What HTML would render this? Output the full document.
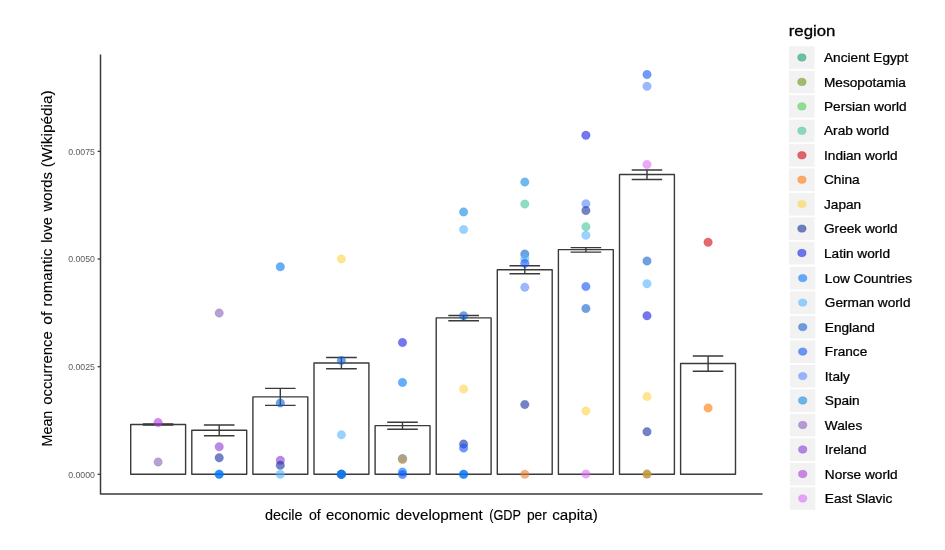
<!DOCTYPE html>
<html lang="en"><head><meta charset="utf-8"><title>Romantic love words by economic development</title>
<style>html,body{margin:0;padding:0;background:#fff}body{width:945px;height:550px;overflow:hidden}svg{display:block}text{font-family:"Liberation Sans",Arial,sans-serif}</style></head><body>
<svg width="945" height="550" viewBox="0 0 945 550">
<rect width="945" height="550" fill="#ffffff"/>
<g fill="none" stroke="#3a3a3a" stroke-width="1.4" stroke-linejoin="round">
<g transform="translate(0.2 0.1)">
<rect x="130.5" y="424.4" width="54.9" height="49.7" fill="#fff"/>
<rect x="191.6" y="430.1" width="54.9" height="44.0" fill="#fff"/>
<rect x="252.7" y="396.8" width="54.9" height="77.3" fill="#fff"/>
<rect x="313.8" y="362.9" width="54.9" height="111.2" fill="#fff"/>
<rect x="374.9" y="425.5" width="54.9" height="48.6" fill="#fff"/>
<rect x="436.0" y="317.8" width="54.9" height="156.3" fill="#fff"/>
<rect x="497.1" y="269.7" width="54.9" height="204.4" fill="#fff"/>
<rect x="558.2" y="249.5" width="54.9" height="224.6" fill="#fff"/>
<rect x="619.3" y="174.4" width="54.9" height="299.7" fill="#fff"/>
<rect x="680.4" y="363.4" width="54.9" height="110.7" fill="#fff"/>
<path d="M142.6 423.9H173.2M142.6 424.9H173.2M157.9 423.9V424.9"/>
<path d="M203.7 424.9H234.3M203.7 435.6H234.3M219.0 424.9V435.6"/>
<path d="M264.8 388.3H295.4M264.8 405.3H295.4M280.1 388.3V405.3"/>
<path d="M325.9 357.4H356.6M325.9 368.7H356.6M341.2 357.4V368.7"/>
<path d="M387.0 422.1H417.6M387.0 429.1H417.6M402.3 422.1V429.1"/>
<path d="M448.1 315.4H478.8M448.1 320.6H478.8M463.4 315.4V320.6"/>
<path d="M509.3 265.6H539.9M509.3 273.6H539.9M524.6 265.6V273.6"/>
<path d="M570.4 247.5H601.0M570.4 252.0H601.0M585.7 247.5V252.0"/>
<path d="M631.5 169.9H662.0M631.5 179.4H662.0M646.8 169.9V179.4"/>
<path d="M692.6 355.9H723.1M692.6 371.1H723.1M707.9 355.9V371.1"/>
</g>
<path d="M100.5 54.6V494.1H762.5" stroke-width="1.5"/>
<path d="M97.6 474.3H100.4" stroke-width="1.3"/>
<path d="M97.6 366.7H100.4" stroke-width="1.3"/>
<path d="M97.6 259.0H100.4" stroke-width="1.3"/>
<path d="M97.6 151.4H100.4" stroke-width="1.3"/>
</g>
<g font-size="9.5" fill="#5a5a5a" text-anchor="end">
<text x="95.0" y="477.65" textLength="26.8" lengthAdjust="spacingAndGlyphs">0.0000</text>
<text x="95.0" y="370.05" textLength="26.8" lengthAdjust="spacingAndGlyphs">0.0025</text>
<text x="95.0" y="262.45" textLength="26.8" lengthAdjust="spacingAndGlyphs">0.0050</text>
<text x="95.0" y="154.85" textLength="26.8" lengthAdjust="spacingAndGlyphs">0.0075</text>
</g>
<g transform="translate(0.2 0.1)" fill-opacity="0.6" stroke-opacity="0.3" stroke-width="0.7">
<circle cx="157.9" cy="422.5" r="4.25" fill="#AF3CD7" stroke="#AF3CD7"/>
<circle cx="157.9" cy="461.9" r="4.25" fill="#8B5FB9" stroke="#8B5FB9"/>
<circle cx="219.0" cy="312.9" r="4.25" fill="#8B5FB9" stroke="#8B5FB9"/>
<circle cx="219.0" cy="446.7" r="4.25" fill="#893CD7" stroke="#893CD7"/>
<circle cx="219.0" cy="457.7" r="4.25" fill="#162F9F" stroke="#162F9F"/>
<circle cx="219.0" cy="474.1" r="4.25" fill="#0277F7" stroke="#0277F7"/>
<circle cx="219.0" cy="474.1" r="4.25" fill="#0277F7" stroke="#0277F7"/>
<circle cx="280.1" cy="266.7" r="4.25" fill="#0277F7" stroke="#0277F7"/>
<circle cx="280.1" cy="402.8" r="4.25" fill="#1161CC" stroke="#1161CC"/>
<circle cx="280.1" cy="460.2" r="4.25" fill="#893CD7" stroke="#893CD7"/>
<circle cx="280.1" cy="465.2" r="4.25" fill="#162F9F" stroke="#162F9F"/>
<circle cx="280.1" cy="474.1" r="4.25" fill="#56B4FF" stroke="#56B4FF"/>
<circle cx="341.2" cy="258.8" r="4.25" fill="#FFD448" stroke="#FFD448"/>
<circle cx="341.2" cy="360.5" r="4.25" fill="#1161CC" stroke="#1161CC"/>
<circle cx="341.2" cy="434.6" r="4.25" fill="#56B4FF" stroke="#56B4FF"/>
<circle cx="341.2" cy="474.1" r="4.25" fill="#0277F7" stroke="#0277F7"/>
<circle cx="341.2" cy="474.1" r="4.25" fill="#1161CC" stroke="#1161CC"/>
<circle cx="341.2" cy="474.1" r="4.25" fill="#1155F7" stroke="#1155F7"/>
<circle cx="341.2" cy="474.1" r="4.25" fill="#1489E0" stroke="#1489E0"/>
<circle cx="402.3" cy="342.4" r="4.25" fill="#181DE1" stroke="#181DE1"/>
<circle cx="402.3" cy="382.3" r="4.25" fill="#0277F7" stroke="#0277F7"/>
<circle cx="402.3" cy="458.6" r="4.25" fill="#162F9F" stroke="#162F9F"/>
<circle cx="402.3" cy="459.2" r="4.5" fill="#B9A572" fill-opacity="0.9"/>
<circle cx="402.3" cy="472.0" r="4.25" fill="#0277F7" stroke="#0277F7"/>
<circle cx="402.3" cy="474.4" r="4.25" fill="#1155F7" stroke="#1155F7"/>
<circle cx="463.4" cy="211.8" r="4.25" fill="#1489E0" stroke="#1489E0"/>
<circle cx="463.4" cy="229.5" r="4.25" fill="#56B4FF" stroke="#56B4FF"/>
<circle cx="463.4" cy="315.6" r="4.25" fill="#1161CC" stroke="#1161CC"/>
<circle cx="463.4" cy="388.8" r="4.25" fill="#FFD448" stroke="#FFD448"/>
<circle cx="463.4" cy="443.9" r="4.25" fill="#162F9F" stroke="#162F9F"/>
<circle cx="463.4" cy="448.0" r="4.25" fill="#1155F7" stroke="#1155F7"/>
<circle cx="463.4" cy="474.2" r="4.25" fill="#0277F7" stroke="#0277F7"/>
<circle cx="463.4" cy="474.2" r="4.25" fill="#0277F7" stroke="#0277F7"/>
<circle cx="524.6" cy="181.9" r="4.25" fill="#1489E0" stroke="#1489E0"/>
<circle cx="524.6" cy="204.0" r="4.25" fill="#45C39B" stroke="#45C39B"/>
<circle cx="524.6" cy="254.0" r="4.25" fill="#1161CC" stroke="#1161CC"/>
<circle cx="524.6" cy="258.5" r="4.25" fill="#56B4FF" stroke="#56B4FF"/>
<circle cx="524.6" cy="263.1" r="4.25" fill="#1155F7" stroke="#1155F7"/>
<circle cx="524.6" cy="287.1" r="4.25" fill="#5A87FC" stroke="#5A87FC"/>
<circle cx="524.6" cy="404.4" r="4.25" fill="#162F9F" stroke="#162F9F"/>
<circle cx="524.6" cy="474.2" r="4.25" fill="#E67F32" stroke="#E67F32"/>
<circle cx="585.7" cy="135.2" r="4.25" fill="#181DE1" stroke="#181DE1"/>
<circle cx="585.7" cy="203.7" r="4.25" fill="#5A87FC" stroke="#5A87FC"/>
<circle cx="585.7" cy="210.4" r="4.25" fill="#162F9F" stroke="#162F9F"/>
<circle cx="585.7" cy="235.2" r="4.25" fill="#56B4FF" stroke="#56B4FF"/>
<circle cx="585.7" cy="226.6" r="4.25" fill="#45C39B" stroke="#45C39B"/>
<circle cx="585.7" cy="286.4" r="4.25" fill="#1155F7" stroke="#1155F7"/>
<circle cx="585.7" cy="308.4" r="4.25" fill="#1161CC" stroke="#1161CC"/>
<circle cx="585.7" cy="410.8" r="4.25" fill="#FFD448" stroke="#FFD448"/>
<circle cx="585.7" cy="474.0" r="4.25" fill="#DA6EF8" stroke="#DA6EF8"/>
<circle cx="646.8" cy="74.5" r="4.25" fill="#1155F7" stroke="#1155F7"/>
<circle cx="646.8" cy="86.2" r="4.25" fill="#5A87FC" stroke="#5A87FC"/>
<circle cx="646.8" cy="164.3" r="4.25" fill="#DA6EF8" stroke="#DA6EF8"/>
<circle cx="646.8" cy="260.8" r="4.25" fill="#1161CC" stroke="#1161CC"/>
<circle cx="646.8" cy="283.6" r="4.25" fill="#56B4FF" stroke="#56B4FF"/>
<circle cx="646.8" cy="315.6" r="4.25" fill="#181DE1" stroke="#181DE1"/>
<circle cx="646.8" cy="396.4" r="4.25" fill="#FFD448" stroke="#FFD448"/>
<circle cx="646.8" cy="431.6" r="4.25" fill="#162F9F" stroke="#162F9F"/>
<circle cx="646.8" cy="474.0" r="4.5" fill="#C09A40" fill-opacity="0.9"/>
<circle cx="707.9" cy="242.2" r="4.25" fill="#D4050F" stroke="#D4050F"/>
<circle cx="707.9" cy="407.8" r="4.25" fill="#FF7A04" stroke="#FF7A04"/>
</g>
<text y="519.8" font-size="15.2" fill="#000" stroke="#000" stroke-width="0.15"><tspan x="264.9" textLength="37.7" lengthAdjust="spacingAndGlyphs">decile</tspan> <tspan x="308.9" textLength="11.8" lengthAdjust="spacingAndGlyphs">of</tspan> <tspan x="325.9" textLength="64.0" lengthAdjust="spacingAndGlyphs">economic</tspan> <tspan x="395.4" textLength="87.3" lengthAdjust="spacingAndGlyphs">development</tspan> <tspan x="489.2" textLength="31.6" lengthAdjust="spacingAndGlyphs">(GDP</tspan> <tspan x="526.9" textLength="20.0" lengthAdjust="spacingAndGlyphs">per</tspan> <tspan x="552.2" textLength="45.6" lengthAdjust="spacingAndGlyphs">capita)</tspan></text>
<text transform="translate(52.1 446.5) rotate(-90)" y="0" font-size="15.2" fill="#000" stroke="#000" stroke-width="0.12"><tspan x="0" textLength="35.8" lengthAdjust="spacingAndGlyphs">Mean</tspan> <tspan x="41.7" textLength="73.6" lengthAdjust="spacingAndGlyphs">occurrence</tspan> <tspan x="121.7" textLength="13.1" lengthAdjust="spacingAndGlyphs">of</tspan> <tspan x="139.9" textLength="57.8" lengthAdjust="spacingAndGlyphs">romantic</tspan> <tspan x="203.8" textLength="25.4" lengthAdjust="spacingAndGlyphs">love</tspan> <tspan x="235.1" textLength="39.3" lengthAdjust="spacingAndGlyphs">words</tspan> <tspan x="279.3" textLength="76.8" lengthAdjust="spacingAndGlyphs">(Wikipédia)</tspan></text>
<text x="788.7" y="35.8" font-size="15.4" fill="#000" stroke="#000" stroke-width="0.3" textLength="46.8" lengthAdjust="spacingAndGlyphs">region</text>
<rect x="789.0" y="46.3" width="25.5" height="22.6" fill="#f2f2f2"/>
<ellipse cx="801.9" cy="57.5" rx="4.2" ry="3.7" fill="#149D6E" fill-opacity="0.6" stroke="#149D6E" stroke-opacity="0.4" stroke-width="0.8"/>
<g transform="translate(824.0 62.1) scale(1.11 1)"><text x="0" y="0" font-size="12.3" fill="#000" stroke="#000" stroke-width="0.25">Ancient Egypt</text></g>
<rect x="789.0" y="70.7" width="25.5" height="22.6" fill="#f2f2f2"/>
<ellipse cx="801.9" cy="81.9" rx="4.2" ry="3.7" fill="#649616" fill-opacity="0.6" stroke="#649616" stroke-opacity="0.4" stroke-width="0.8"/>
<g transform="translate(824.0 86.5) scale(1.11 1)"><text x="0" y="0" font-size="12.3" fill="#000" stroke="#000" stroke-width="0.25">Mesopotamia</text></g>
<rect x="789.0" y="95.2" width="25.5" height="22.6" fill="#f2f2f2"/>
<ellipse cx="801.9" cy="106.4" rx="4.2" ry="3.7" fill="#4DCD55" fill-opacity="0.6" stroke="#4DCD55" stroke-opacity="0.4" stroke-width="0.8"/>
<g transform="translate(824.0 111.0) scale(1.11 1)"><text x="0" y="0" font-size="12.3" fill="#000" stroke="#000" stroke-width="0.25">Persian world</text></g>
<rect x="789.0" y="119.6" width="25.5" height="22.6" fill="#f2f2f2"/>
<ellipse cx="801.9" cy="130.8" rx="4.2" ry="3.7" fill="#45C39B" fill-opacity="0.6" stroke="#45C39B" stroke-opacity="0.4" stroke-width="0.8"/>
<g transform="translate(824.0 135.4) scale(1.11 1)"><text x="0" y="0" font-size="12.3" fill="#000" stroke="#000" stroke-width="0.25">Arab world</text></g>
<rect x="789.0" y="144.1" width="25.5" height="22.6" fill="#f2f2f2"/>
<ellipse cx="801.9" cy="155.3" rx="4.2" ry="3.7" fill="#D4050F" fill-opacity="0.6" stroke="#D4050F" stroke-opacity="0.4" stroke-width="0.8"/>
<g transform="translate(824.0 159.9) scale(1.11 1)"><text x="0" y="0" font-size="12.3" fill="#000" stroke="#000" stroke-width="0.25">Indian world</text></g>
<rect x="789.0" y="168.5" width="25.5" height="22.6" fill="#f2f2f2"/>
<ellipse cx="801.9" cy="179.7" rx="4.2" ry="3.7" fill="#FF7A04" fill-opacity="0.6" stroke="#FF7A04" stroke-opacity="0.4" stroke-width="0.8"/>
<g transform="translate(824.0 184.3) scale(1.11 1)"><text x="0" y="0" font-size="12.3" fill="#000" stroke="#000" stroke-width="0.25">China</text></g>
<rect x="789.0" y="192.9" width="25.5" height="22.6" fill="#f2f2f2"/>
<ellipse cx="801.9" cy="204.1" rx="4.2" ry="3.7" fill="#FFD448" fill-opacity="0.6" stroke="#FFD448" stroke-opacity="0.4" stroke-width="0.8"/>
<g transform="translate(824.0 208.7) scale(1.11 1)"><text x="0" y="0" font-size="12.3" fill="#000" stroke="#000" stroke-width="0.25">Japan</text></g>
<rect x="789.0" y="217.4" width="25.5" height="22.6" fill="#f2f2f2"/>
<ellipse cx="801.9" cy="228.6" rx="4.2" ry="3.7" fill="#162F9F" fill-opacity="0.6" stroke="#162F9F" stroke-opacity="0.4" stroke-width="0.8"/>
<g transform="translate(824.0 233.2) scale(1.11 1)"><text x="0" y="0" font-size="12.3" fill="#000" stroke="#000" stroke-width="0.25">Greek world</text></g>
<rect x="789.0" y="241.8" width="25.5" height="22.6" fill="#f2f2f2"/>
<ellipse cx="801.9" cy="253.0" rx="4.2" ry="3.7" fill="#181DE1" fill-opacity="0.6" stroke="#181DE1" stroke-opacity="0.4" stroke-width="0.8"/>
<g transform="translate(824.0 257.6) scale(1.11 1)"><text x="0" y="0" font-size="12.3" fill="#000" stroke="#000" stroke-width="0.25">Latin world</text></g>
<rect x="789.8" y="266.9" width="25.5" height="22.6" fill="#f2f2f2"/>
<ellipse cx="802.7" cy="278.1" rx="4.2" ry="3.7" fill="#0277F7" fill-opacity="0.6" stroke="#0277F7" stroke-opacity="0.4" stroke-width="0.8"/>
<g transform="translate(824.8 282.7) scale(1.11 1)"><text x="0" y="0" font-size="12.3" fill="#000" stroke="#000" stroke-width="0.25">Low Countries</text></g>
<rect x="789.8" y="291.4" width="25.5" height="22.6" fill="#f2f2f2"/>
<ellipse cx="802.7" cy="302.6" rx="4.2" ry="3.7" fill="#56B4FF" fill-opacity="0.6" stroke="#56B4FF" stroke-opacity="0.4" stroke-width="0.8"/>
<g transform="translate(824.8 307.2) scale(1.11 1)"><text x="0" y="0" font-size="12.3" fill="#000" stroke="#000" stroke-width="0.25">German world</text></g>
<rect x="789.8" y="315.9" width="25.5" height="22.6" fill="#f2f2f2"/>
<ellipse cx="802.7" cy="327.1" rx="4.2" ry="3.7" fill="#1161CC" fill-opacity="0.6" stroke="#1161CC" stroke-opacity="0.4" stroke-width="0.8"/>
<g transform="translate(824.8 331.7) scale(1.11 1)"><text x="0" y="0" font-size="12.3" fill="#000" stroke="#000" stroke-width="0.25">England</text></g>
<rect x="789.8" y="340.4" width="25.5" height="22.6" fill="#f2f2f2"/>
<ellipse cx="802.7" cy="351.6" rx="4.2" ry="3.7" fill="#1155F7" fill-opacity="0.6" stroke="#1155F7" stroke-opacity="0.4" stroke-width="0.8"/>
<g transform="translate(824.8 356.2) scale(1.11 1)"><text x="0" y="0" font-size="12.3" fill="#000" stroke="#000" stroke-width="0.25">France</text></g>
<rect x="789.8" y="364.9" width="25.5" height="22.6" fill="#f2f2f2"/>
<ellipse cx="802.7" cy="376.1" rx="4.2" ry="3.7" fill="#5A87FC" fill-opacity="0.6" stroke="#5A87FC" stroke-opacity="0.4" stroke-width="0.8"/>
<g transform="translate(824.8 380.7) scale(1.11 1)"><text x="0" y="0" font-size="12.3" fill="#000" stroke="#000" stroke-width="0.25">Italy</text></g>
<rect x="789.8" y="389.3" width="25.5" height="22.6" fill="#f2f2f2"/>
<ellipse cx="802.7" cy="400.5" rx="4.2" ry="3.7" fill="#1489E0" fill-opacity="0.6" stroke="#1489E0" stroke-opacity="0.4" stroke-width="0.8"/>
<g transform="translate(824.8 405.1) scale(1.11 1)"><text x="0" y="0" font-size="12.3" fill="#000" stroke="#000" stroke-width="0.25">Spain</text></g>
<rect x="789.8" y="413.8" width="25.5" height="22.6" fill="#f2f2f2"/>
<ellipse cx="802.7" cy="425.0" rx="4.2" ry="3.7" fill="#8B5FB9" fill-opacity="0.6" stroke="#8B5FB9" stroke-opacity="0.4" stroke-width="0.8"/>
<g transform="translate(824.8 429.6) scale(1.11 1)"><text x="0" y="0" font-size="12.3" fill="#000" stroke="#000" stroke-width="0.25">Wales</text></g>
<rect x="789.8" y="438.3" width="25.5" height="22.6" fill="#f2f2f2"/>
<ellipse cx="802.7" cy="449.5" rx="4.2" ry="3.7" fill="#893CD7" fill-opacity="0.6" stroke="#893CD7" stroke-opacity="0.4" stroke-width="0.8"/>
<g transform="translate(824.8 454.1) scale(1.11 1)"><text x="0" y="0" font-size="12.3" fill="#000" stroke="#000" stroke-width="0.25">Ireland</text></g>
<rect x="789.8" y="462.8" width="25.5" height="22.6" fill="#f2f2f2"/>
<ellipse cx="802.7" cy="474.0" rx="4.2" ry="3.7" fill="#AF3CD7" fill-opacity="0.6" stroke="#AF3CD7" stroke-opacity="0.4" stroke-width="0.8"/>
<g transform="translate(824.8 478.6) scale(1.11 1)"><text x="0" y="0" font-size="12.3" fill="#000" stroke="#000" stroke-width="0.25">Norse world</text></g>
<rect x="789.8" y="487.3" width="25.5" height="22.6" fill="#f2f2f2"/>
<ellipse cx="802.7" cy="498.5" rx="4.2" ry="3.7" fill="#DA6EF8" fill-opacity="0.6" stroke="#DA6EF8" stroke-opacity="0.4" stroke-width="0.8"/>
<g transform="translate(824.8 503.1) scale(1.11 1)"><text x="0" y="0" font-size="12.3" fill="#000" stroke="#000" stroke-width="0.25">East Slavic</text></g>
</svg></body></html>
